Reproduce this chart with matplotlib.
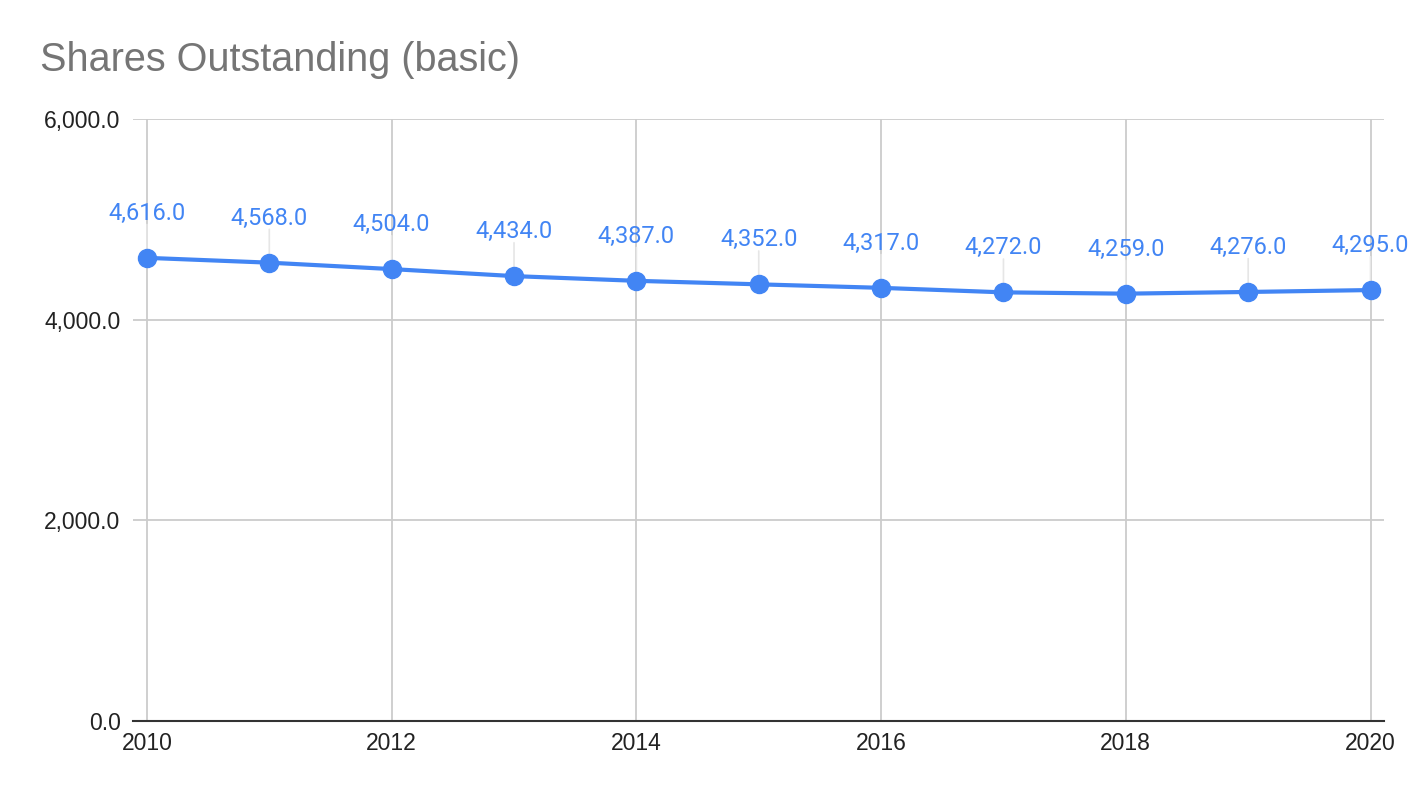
import matplotlib.pyplot as plt

years = [2010, 2011, 2012, 2013, 2014, 2015, 2016, 2017, 2018, 2019, 2020]
shares = [4616.0, 4568.0, 4504.0, 4434.0, 4387.0, 4352.0, 4317.0, 4272.0, 4259.0, 4276.0, 4295.0]
x_ticks = [2010, 2012, 2014, 2016, 2018, 2020]
y_ticks = [0, 2000, 4000, 6000]

blue = '#4285f4'
plt.rcParams['font.family'] = ['Liberation Sans', 'DejaVu Sans']

fig = plt.figure(figsize=(14.24, 7.98), dpi=100)
ax = fig.add_axes([0.0934, 0.0965, 0.8785, 0.7544])

ax.plot(years, shares, color=blue, linewidth=3, marker='o', markersize=13, zorder=3)

# data labels with faint leader lines
for x, y in zip(years, shares):
    ax.annotate('', xy=(x, y), xytext=(0, 24), textcoords='offset points',
                arrowprops=dict(arrowstyle='-', color='#e6e6e6', lw=1.2,
                                shrinkA=0, shrinkB=0), zorder=2)
    ax.annotate(f'{y:,.1f}', xy=(x, y), xytext=(0, 32), textcoords='offset points',
                ha='center', va='center', color=blue, fontsize=17, zorder=4,
                family=['Roboto', 'DejaVu Sans'], annotation_clip=False)

ax.set_xlim(2009.886, 2020.11)
ax.set_ylim(0, 6000)
ax.set_xticks(x_ticks)
ax.set_yticks(y_ticks)
ax.set_yticklabels([f'{v:,.1f}' for v in y_ticks])
ax.tick_params(axis='both', length=0, labelsize=16.5, colors='#222222')
ax.tick_params(axis='y', pad=9)
ax.tick_params(axis='x', pad=8)
ax.grid(True, color='#cccccc', linewidth=1.3)
ax.set_axisbelow(True)
for s in ['top', 'right', 'left']:
    ax.spines[s].set_visible(False)
ax.spines['bottom'].set_color('#333333')
ax.spines['bottom'].set_linewidth(1.5)

fig.text(0.028, 0.925, 'Shares Outstanding (basic)', fontsize=28.5, color='#757575',
         ha='left', va='center')

fig.savefig('out.png', dpi=100)
